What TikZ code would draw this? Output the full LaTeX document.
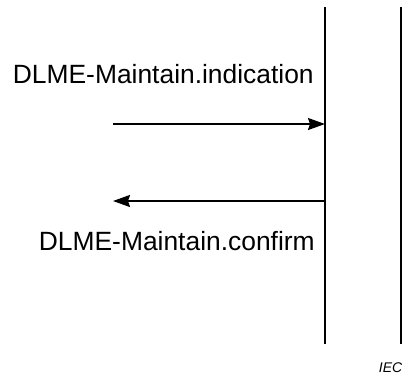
\documentclass[tikz,border=0pt]{standalone}
\usepackage{fontspec}
\setmainfont{Liberation Sans}
\usetikzlibrary{arrows.meta}

\begin{document}
\begin{tikzpicture}[x=1pt,y=-1pt,line width=1.8pt,>={Stealth[length=17pt,width=12pt,inset=2pt]},
  prim label/.style={font=\fontsize{26.4}{30}\selectfont,inner sep=0pt},
  iec label/.style={font=\fontsize{14}{16}\selectfont\itshape,inner sep=0pt}]
            \useasboundingbox (0,0) rectangle (402,376);
            % lifelines
            \coordinate (dlme top) at (325,7);
            \coordinate (dlme bot) at (325,344);
            \coordinate (peer top) at (401,7);
            \coordinate (peer bot) at (401,344);
            \draw (dlme top) -- (dlme bot);
            \draw (peer top) -- (peer bot);
            % primitives
            \node[prim label,anchor=base west] (ind) at (12,83) {DLME-Maintain.indication};
            \coordinate (ind from) at (113,124);
            \coordinate (ind to) at (325,124);
            \draw[->] (ind from) -- (ind to);
            \coordinate (cnf from) at (325,201);
            \coordinate (cnf to) at (113,201);
            \draw[->] (cnf from) -- (cnf to);
            \node[prim label,anchor=base west] (cnf) at (38,250) {DLME-Maintain.confirm};
            \node[iec label,anchor=base west] (iec) at (378,372) {IEC};
        \end{tikzpicture}
\end{document}
